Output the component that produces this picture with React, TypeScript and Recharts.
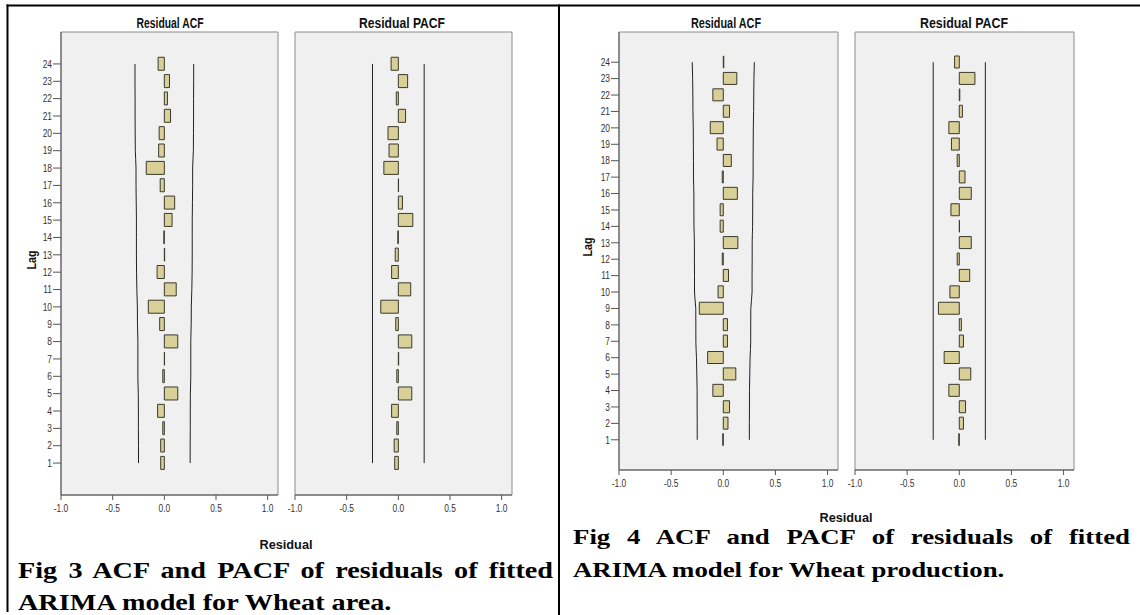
import React, { useLayoutEffect, useRef, useState } from 'react';
import { ComposedChart, Bar, Line, XAxis, YAxis, ReferenceArea, ReferenceLine } from 'recharts';

// ---- data ----
const lags = [1, 2, 3, 4, 5, 6, 7, 8, 9, 10, 11, 12, 13, 14, 15, 16, 17, 18, 19, 20, 21, 22, 23, 24];

const fig3Acf = [-0.035, -0.035, -0.015, -0.065, 0.13, -0.015, 0.002, 0.13, -0.045, -0.155, 0.115, -0.07, 0.003, -0.005, 0.075, 0.1, -0.04, -0.175, -0.055, -0.05, 0.06, 0.03, 0.05, -0.06];
const fig3AcfLimit = [0.25, 0.25, 0.251, 0.251, 0.252, 0.256, 0.256, 0.256, 0.26, 0.261, 0.266, 0.269, 0.27, 0.27, 0.27, 0.272, 0.274, 0.274, 0.281, 0.282, 0.283, 0.283, 0.284, 0.284];
const fig3Pacf = [-0.035, -0.04, -0.015, -0.065, 0.13, -0.015, 0.003, 0.13, -0.025, -0.17, 0.12, -0.065, -0.03, -0.005, 0.14, 0.04, 0.002, -0.14, -0.09, -0.1, 0.07, -0.02, 0.09, -0.07];
const fig3PacfLimit = 0.25;

const fig4Acf = [-0.005, 0.045, 0.06, -0.1, 0.12, -0.15, 0.04, 0.04, -0.23, -0.05, 0.05, -0.01, 0.14, -0.03, -0.03, 0.135, -0.01, 0.077, -0.06, -0.125, 0.06, -0.1, 0.13, 0.005];
const fig4AcfLimit = [0.25, 0.25, 0.251, 0.251, 0.254, 0.257, 0.263, 0.263, 0.264, 0.276, 0.276, 0.277, 0.277, 0.281, 0.282, 0.282, 0.286, 0.286, 0.287, 0.288, 0.291, 0.292, 0.294, 0.298];
const fig4Pacf = [-0.005, 0.04, 0.06, -0.1, 0.11, -0.145, 0.04, 0.02, -0.2, -0.09, 0.1, -0.02, 0.115, 0.002, -0.08, 0.115, 0.055, -0.02, -0.075, -0.1, 0.03, 0.005, 0.15, -0.045];
const fig4PacfLimit = 0.25;

const xTicks = [-1, -0.5, 0, 0.5, 1];
const xDomain = [-1, 1.1];
const yDomain = [-0.84, 25.84];

const panelTitles = ['Residual ACF', 'Residual PACF'];
const captions3 = ['Fig 3 ACF and PACF of residuals of fitted', 'ARIMA model for Wheat area.'];
const captions4 = ['Fig 4 ACF and PACF of residuals of fitted', 'ARIMA model for Wheat production.'];

// ---- styles ----
const SANS = "'Liberation Sans', Arial, sans-serif";
const SERIF = "'Liberation Serif', 'Times New Roman', serif";
const NARROW_SCALE = 0.8;
const BAR_FILL = '#d8cf99';
const BAR_STROKE = '#3a3a2a';
const PANEL_BG = '#f0f0f0';
const FRAME = '#8c8c8c';
const AXIS = '#555555';
const TICK_TEXT = '#333333';

function XTick(props: any) {
  const { x, y, payload } = props;
  return (
    <g transform={`translate(${x},${y})`}>
      <text transform={`scale(${NARROW_SCALE},1)`} textAnchor="middle" dy="0.71em" fontSize={10.5} fill={TICK_TEXT} fontFamily={SANS}>
        {Number(payload.value).toFixed(1)}
      </text>
    </g>
  );
}

function YTick(props: any) {
  const { x, y, payload } = props;
  return (
    <g transform={`translate(${x},${y})`}>
      <text transform={`scale(${NARROW_SCALE},1)`} textAnchor="end" dy="0.355em" fontSize={10.5} fill={TICK_TEXT} fontFamily={SANS}>
        {payload.value}
      </text>
    </g>
  );
}

type PanelProps = {
  left: number;
  top: number;
  width: number;
  height: number;
  margin: { top: number; right: number; bottom: number; left: number };
  values: number[];
  limits?: number[];
  constLimit?: number;
  showY: boolean;
  barSize: number;
};

function Panel(p: PanelProps) {
  const data = lags.map((lag, i) => ({
    lag,
    value: p.values[i],
    upper: p.limits ? p.limits[i] : undefined,
    lower: p.limits ? -p.limits[i] : undefined,
  }));
  return (
    <div style={{ position: 'absolute', left: p.left, top: p.top }}>
      <ComposedChart width={p.width} height={p.height} data={data} layout="vertical" margin={p.margin}>
        <ReferenceArea
          x1={xDomain[0]}
          x2={xDomain[1]}
          y1={yDomain[0]}
          y2={yDomain[1]}
          fill={PANEL_BG}
          fillOpacity={1}
          stroke={FRAME}
          strokeWidth={1}
          ifOverflow="extendDomain"
        />
        <XAxis
          type="number"
          dataKey="value"
          domain={xDomain}
          allowDataOverflow
          ticks={xTicks}
          tick={<XTick />}
          tickSize={5}
          tickMargin={5}
          axisLine={{ stroke: AXIS }}
          tickLine={{ stroke: AXIS }}
          height={30}
        />
        <YAxis
          type="number"
          dataKey="lag"
          domain={yDomain}
          allowDataOverflow
          reversed
          ticks={lags}
          interval={0}
          hide={!p.showY}
          width={40}
          tick={<YTick />}
          tickSize={8}
          tickMargin={1}
          axisLine={{ stroke: AXIS }}
          tickLine={{ stroke: AXIS }}
        />
        <Bar
          dataKey="value"
          barSize={p.barSize}
          fill={BAR_FILL}
          stroke={BAR_STROKE}
          strokeWidth={1}
          isAnimationActive={false}
        />
        {p.limits && (
          <Line dataKey="upper" type="monotone" stroke="#222" strokeWidth={1} dot={false} isAnimationActive={false} />
        )}
        {p.limits && (
          <Line dataKey="lower" type="monotone" stroke="#222" strokeWidth={1} dot={false} isAnimationActive={false} />
        )}
        {p.constLimit !== undefined && (
          <ReferenceLine
            segment={[
              { x: p.constLimit, y: lags[0] },
              { x: p.constLimit, y: lags[lags.length - 1] },
            ]}
            stroke="#222"
            strokeWidth={1}
          />
        )}
        {p.constLimit !== undefined && (
          <ReferenceLine
            segment={[
              { x: -p.constLimit, y: lags[0] },
              { x: -p.constLimit, y: lags[lags.length - 1] },
            ]}
            stroke="#222"
            strokeWidth={1}
          />
        )}
      </ComposedChart>
    </div>
  );
}

// caption line: horizontally stretched Times-like bold text; optionally spread to a width via word spacing
function CaptionLine(props: { x: number; y: number; text: string; size: number; scale: number; target?: number }) {
  const ref = useRef<SVGTextElement>(null);
  const [ws, setWs] = useState(0);
  useLayoutEffect(() => {
    if (!props.target || !ref.current) return;
    const natural = ref.current.getComputedTextLength();
    const spaces = props.text.split(' ').length - 1;
    const extra = (props.target / props.scale - natural) / spaces;
    setWs(Math.max(0, extra));
  }, [props.target, props.text, props.scale]);
  return (
    <text
      ref={ref}
      transform={`translate(${props.x},${props.y}) scale(${props.scale},1)`}
      style={{ fontFamily: SERIF, fontWeight: 700, fontSize: props.size, fill: '#000', wordSpacing: ws }}
    >
      {props.text}
    </text>
  );
}

function Overlay() {
  const titleStyle = { fontFamily: SANS, fontWeight: 700, fontSize: 14, fill: '#111' } as const;
  const T = (x: number, y: number, w: number, s: string, extra: any = {}) => (
    <text x={x - w / 2} y={y} dominantBaseline="central" textLength={w} lengthAdjust="spacingAndGlyphs" style={{ ...titleStyle, ...extra }}>{s}</text>
  );
  return (
    <svg width={1140} height={615} style={{ position: 'absolute', left: 0, top: 0, pointerEvents: 'none' }}>
      {/* borders */}
      <rect x={6.5} y={4.5} width={1133.5} height={2} fill="#000" />
      <rect x={6.5} y={4.5} width={2} height={607.5} fill="#000" />
      <rect x={558} y={4.5} width={2} height={610.5} fill="#000" />

      {/* panel titles */}
      {T(170, 23, 67, panelTitles[0])}
      {T(402, 23, 86, panelTitles[1])}
      {T(726, 23, 70, panelTitles[0])}
      {T(964, 23, 88, panelTitles[1])}

      {/* Lag labels */}
      <g transform="rotate(-90 31 260)">{T(31, 260, 19, 'Lag', { fontSize: 13 })}</g>
      <g transform="rotate(-90 587 247)">{T(587, 247, 19, 'Lag', { fontSize: 13 })}</g>

      {/* Residual labels */}
      {T(286, 544, 53, 'Residual', { fontSize: 13.5 })}
      {T(846, 517, 53, 'Residual', { fontSize: 13.5 })}

      {/* captions */}
      <CaptionLine x={18} y={578} text={captions3[0]} size={23.5} scale={1.2} target={535} />
      <CaptionLine x={18} y={610} text={captions3[1]} size={23.5} scale={1.2} />
      <CaptionLine x={573} y={544} text={captions4[0]} size={22} scale={1.22} target={557} />
      <CaptionLine x={573} y={577} text={captions4[1]} size={22} scale={1.22} />
    </svg>
  );
}

export default function App() {
  return (
    <div style={{ position: 'absolute', left: 0, top: 0, width: 1140, height: 615, background: '#fff', overflow: 'hidden' }}>
      {/* Fig 3: ACF */}
      <Panel left={0} top={0} width={290} height={530} margin={{ top: 32, right: 12, bottom: 5, left: 21 }}
        values={fig3Acf} limits={fig3AcfLimit} showY barSize={13} />
      {/* Fig 3: PACF */}
      <Panel left={280} top={0} width={245} height={530} margin={{ top: 32, right: 13, bottom: 5, left: 15 }}
        values={fig3Pacf} constLimit={fig3PacfLimit} showY={false} barSize={13} />
      {/* Fig 4: ACF */}
      <Panel left={565} top={0} width={285} height={505} margin={{ top: 32, right: 12, bottom: 5, left: 14 }}
        values={fig4Acf} limits={fig4AcfLimit} showY barSize={12} />
      {/* Fig 4: PACF */}
      <Panel left={840} top={0} width={247} height={505} margin={{ top: 32, right: 13, bottom: 5, left: 15 }}
        values={fig4Pacf} constLimit={fig4PacfLimit} showY={false} barSize={12} />
      <Overlay />
    </div>
  );
}
